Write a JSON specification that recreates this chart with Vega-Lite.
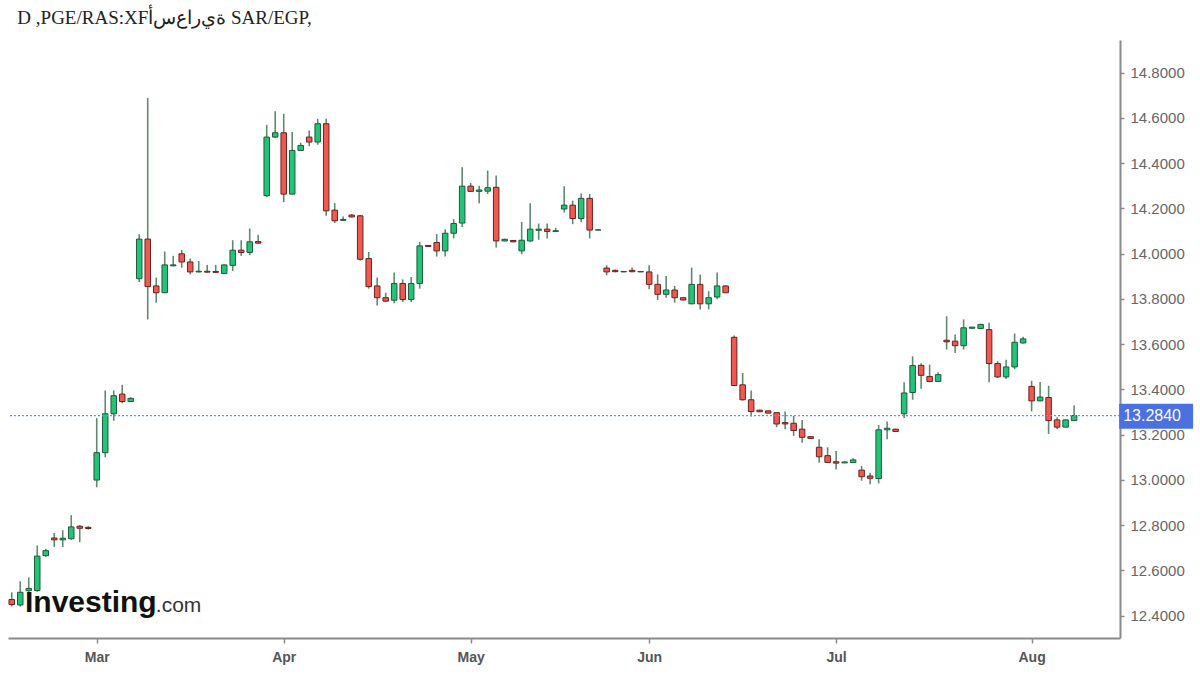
{
  "$schema": "https://vega.github.io/schema/vega-lite/v6.json",
  "width": 1112,
  "height": 598,
  "autosize": "none",
  "padding": {"left": 8, "top": 40, "right": 80, "bottom": 37},
  "background": "#ffffff",
  "title": {
    "text": "D ,PGE/RAS:XF\u202dأ\u200cس\u200cع\u200cا\u200cر\u200cي\u200cة\u202c SAR/EGP,",
    "anchor": "start",
    "dx": 10,
    "offset": -3,
    "baseline": "alphabetic",
    "font": "Liberation Serif",
    "fontSize": 19,
    "fontWeight": "normal",
    "color": "#222222"
  },
  "datasets": {
    "last": [{"price": 13.284}],
    "logo": [{"word": "Investing", "suffix": ".com"}]
  },
  "data": {
    "values": [
      {"i": 0, "o": 12.471, "h": 12.503, "l": 12.44, "c": 12.449},
      {"i": 1, "o": 12.447, "h": 12.552, "l": 12.44, "c": 12.503},
      {"i": 2, "o": 12.51, "h": 12.569, "l": 12.505, "c": 12.52},
      {"i": 3, "o": 12.511, "h": 12.71, "l": 12.505, "c": 12.663},
      {"i": 4, "o": 12.665, "h": 12.695, "l": 12.66, "c": 12.687},
      {"i": 5, "o": 12.743, "h": 12.765, "l": 12.703, "c": 12.735},
      {"i": 6, "o": 12.735, "h": 12.777, "l": 12.703, "c": 12.742},
      {"i": 7, "o": 12.74, "h": 12.844, "l": 12.735, "c": 12.792},
      {"i": 8, "o": 12.795, "h": 12.8, "l": 12.725, "c": 12.786},
      {"i": 9, "o": 12.79, "h": 12.795, "l": 12.78, "c": 12.785},
      {"i": 10, "o": 12.999, "h": 13.273, "l": 12.967, "c": 13.12},
      {"i": 11, "o": 13.12, "h": 13.395, "l": 13.1, "c": 13.292},
      {"i": 12, "o": 13.292, "h": 13.395, "l": 13.261, "c": 13.372},
      {"i": 13, "o": 13.379, "h": 13.42, "l": 13.339, "c": 13.346},
      {"i": 14, "o": 13.346, "h": 13.365, "l": 13.344, "c": 13.36},
      {"i": 15, "o": 13.889, "h": 14.086, "l": 13.874, "c": 14.064},
      {"i": 16, "o": 14.064, "h": 14.688, "l": 13.709, "c": 13.854},
      {"i": 17, "o": 13.857, "h": 13.894, "l": 13.783, "c": 13.827},
      {"i": 18, "o": 13.827, "h": 14.009, "l": 13.825, "c": 13.95},
      {"i": 19, "o": 13.946, "h": 13.99, "l": 13.944, "c": 13.95},
      {"i": 20, "o": 13.999, "h": 14.016, "l": 13.938, "c": 13.963},
      {"i": 21, "o": 13.963, "h": 13.978, "l": 13.908, "c": 13.919},
      {"i": 22, "o": 13.919, "h": 13.967, "l": 13.917, "c": 13.922},
      {"i": 23, "o": 13.922, "h": 13.95, "l": 13.916, "c": 13.918},
      {"i": 24, "o": 13.921, "h": 13.95, "l": 13.915, "c": 13.917},
      {"i": 25, "o": 13.912, "h": 13.952, "l": 13.911, "c": 13.95},
      {"i": 26, "o": 13.948, "h": 14.059, "l": 13.923, "c": 14.015},
      {"i": 27, "o": 14.015, "h": 14.059, "l": 13.99, "c": 14.005},
      {"i": 28, "o": 14.005, "h": 14.111, "l": 13.993, "c": 14.052},
      {"i": 29, "o": 14.053, "h": 14.083, "l": 14.045, "c": 14.046},
      {"i": 30, "o": 14.256, "h": 14.569, "l": 14.25, "c": 14.515},
      {"i": 31, "o": 14.515, "h": 14.629, "l": 14.51, "c": 14.534},
      {"i": 32, "o": 14.534, "h": 14.618, "l": 14.227, "c": 14.263},
      {"i": 33, "o": 14.263, "h": 14.537, "l": 14.26, "c": 14.456},
      {"i": 34, "o": 14.456, "h": 14.49, "l": 14.454, "c": 14.478},
      {"i": 35, "o": 14.515, "h": 14.544, "l": 14.475, "c": 14.493},
      {"i": 36, "o": 14.493, "h": 14.596, "l": 14.481, "c": 14.574},
      {"i": 37, "o": 14.574, "h": 14.596, "l": 14.167, "c": 14.189},
      {"i": 38, "o": 14.192, "h": 14.223, "l": 14.135, "c": 14.145},
      {"i": 39, "o": 14.147, "h": 14.164, "l": 14.145, "c": 14.151},
      {"i": 40, "o": 14.17, "h": 14.175, "l": 14.16, "c": 14.162},
      {"i": 41, "o": 14.167, "h": 14.17, "l": 13.97, "c": 13.975},
      {"i": 42, "o": 13.978, "h": 14.007, "l": 13.845, "c": 13.854},
      {"i": 43, "o": 13.857, "h": 13.894, "l": 13.771, "c": 13.805},
      {"i": 44, "o": 13.805, "h": 13.827, "l": 13.785, "c": 13.79},
      {"i": 45, "o": 13.794, "h": 13.916, "l": 13.78, "c": 13.868},
      {"i": 46, "o": 13.868, "h": 13.886, "l": 13.786, "c": 13.797},
      {"i": 47, "o": 13.797, "h": 13.897, "l": 13.786, "c": 13.868},
      {"i": 48, "o": 13.868, "h": 14.052, "l": 13.845, "c": 14.034},
      {"i": 49, "o": 14.036, "h": 14.037, "l": 14.03, "c": 14.031},
      {"i": 50, "o": 14.049, "h": 14.086, "l": 13.987, "c": 14.012},
      {"i": 51, "o": 14.012, "h": 14.108, "l": 13.987, "c": 14.09},
      {"i": 52, "o": 14.09, "h": 14.152, "l": 14.067, "c": 14.133},
      {"i": 53, "o": 14.135, "h": 14.382, "l": 14.118, "c": 14.298},
      {"i": 54, "o": 14.298, "h": 14.312, "l": 14.272, "c": 14.275},
      {"i": 55, "o": 14.275, "h": 14.3, "l": 14.223, "c": 14.281},
      {"i": 56, "o": 14.276, "h": 14.367, "l": 14.263, "c": 14.291},
      {"i": 57, "o": 14.293, "h": 14.345, "l": 14.027, "c": 14.056},
      {"i": 58, "o": 14.056, "h": 14.066, "l": 14.054, "c": 14.063},
      {"i": 59, "o": 14.058, "h": 14.06, "l": 14.05, "c": 14.052},
      {"i": 60, "o": 14.012, "h": 14.14, "l": 13.997, "c": 14.059},
      {"i": 61, "o": 14.056, "h": 14.223, "l": 14.052, "c": 14.108},
      {"i": 62, "o": 14.103, "h": 14.133, "l": 14.061, "c": 14.108},
      {"i": 63, "o": 14.108, "h": 14.133, "l": 14.067, "c": 14.098},
      {"i": 64, "o": 14.098, "h": 14.114, "l": 14.097, "c": 14.101},
      {"i": 65, "o": 14.197, "h": 14.298, "l": 14.182, "c": 14.214},
      {"i": 66, "o": 14.214, "h": 14.234, "l": 14.13, "c": 14.155},
      {"i": 67, "o": 14.155, "h": 14.266, "l": 14.138, "c": 14.244},
      {"i": 68, "o": 14.244, "h": 14.263, "l": 14.067, "c": 14.104},
      {"i": 69, "o": 14.104, "h": 14.106, "l": 14.103, "c": 14.105},
      {"i": 70, "o": 13.936, "h": 13.948, "l": 13.904, "c": 13.919},
      {"i": 71, "o": 13.926, "h": 13.93, "l": 13.918, "c": 13.92},
      {"i": 72, "o": 13.919, "h": 13.922, "l": 13.918, "c": 13.921},
      {"i": 73, "o": 13.926, "h": 13.938, "l": 13.918, "c": 13.92},
      {"i": 74, "o": 13.919, "h": 13.922, "l": 13.918, "c": 13.921},
      {"i": 75, "o": 13.919, "h": 13.948, "l": 13.842, "c": 13.864},
      {"i": 76, "o": 13.864, "h": 13.908, "l": 13.795, "c": 13.82},
      {"i": 77, "o": 13.82, "h": 13.901, "l": 13.805, "c": 13.839},
      {"i": 78, "o": 13.839, "h": 13.857, "l": 13.783, "c": 13.805},
      {"i": 79, "o": 13.805, "h": 13.807, "l": 13.793, "c": 13.795},
      {"i": 80, "o": 13.778, "h": 13.938, "l": 13.776, "c": 13.864},
      {"i": 81, "o": 13.864, "h": 13.908, "l": 13.753, "c": 13.778},
      {"i": 82, "o": 13.778, "h": 13.834, "l": 13.753, "c": 13.805},
      {"i": 83, "o": 13.808, "h": 13.916, "l": 13.798, "c": 13.857},
      {"i": 84, "o": 13.857, "h": 13.86, "l": 13.825, "c": 13.827},
      {"i": 85, "o": 13.63, "h": 13.638, "l": 13.415, "c": 13.417},
      {"i": 86, "o": 13.42, "h": 13.472, "l": 13.35, "c": 13.354},
      {"i": 87, "o": 13.354, "h": 13.395, "l": 13.28, "c": 13.302},
      {"i": 88, "o": 13.308, "h": 13.31, "l": 13.299, "c": 13.301},
      {"i": 89, "o": 13.305, "h": 13.307, "l": 13.293, "c": 13.295},
      {"i": 90, "o": 13.297, "h": 13.3, "l": 13.233, "c": 13.247},
      {"i": 91, "o": 13.253, "h": 13.302, "l": 13.224, "c": 13.247},
      {"i": 92, "o": 13.25, "h": 13.283, "l": 13.194, "c": 13.218},
      {"i": 93, "o": 13.224, "h": 13.265, "l": 13.164, "c": 13.188},
      {"i": 94, "o": 13.191, "h": 13.193, "l": 13.181, "c": 13.183},
      {"i": 95, "o": 13.144, "h": 13.179, "l": 13.076, "c": 13.102},
      {"i": 96, "o": 13.107, "h": 13.144, "l": 13.075, "c": 13.077},
      {"i": 97, "o": 13.08, "h": 13.128, "l": 13.046, "c": 13.074},
      {"i": 98, "o": 13.075, "h": 13.081, "l": 13.074, "c": 13.079},
      {"i": 99, "o": 13.076, "h": 13.095, "l": 13.075, "c": 13.088},
      {"i": 100, "o": 13.043, "h": 13.061, "l": 12.996, "c": 13.014},
      {"i": 101, "o": 13.017, "h": 13.031, "l": 12.981, "c": 13.007},
      {"i": 102, "o": 13.006, "h": 13.243, "l": 12.984, "c": 13.221},
      {"i": 103, "o": 13.221, "h": 13.258, "l": 13.179, "c": 13.228},
      {"i": 104, "o": 13.224, "h": 13.226, "l": 13.212, "c": 13.214},
      {"i": 105, "o": 13.292, "h": 13.431, "l": 13.273, "c": 13.384},
      {"i": 106, "o": 13.386, "h": 13.546, "l": 13.354, "c": 13.505},
      {"i": 107, "o": 13.506, "h": 13.515, "l": 13.403, "c": 13.462},
      {"i": 108, "o": 13.457, "h": 13.509, "l": 13.431, "c": 13.435},
      {"i": 109, "o": 13.435, "h": 13.475, "l": 13.433, "c": 13.465},
      {"i": 110, "o": 13.617, "h": 13.723, "l": 13.576, "c": 13.61},
      {"i": 111, "o": 13.613, "h": 13.642, "l": 13.561, "c": 13.593},
      {"i": 112, "o": 13.593, "h": 13.709, "l": 13.576, "c": 13.672},
      {"i": 113, "o": 13.67, "h": 13.677, "l": 13.668, "c": 13.675},
      {"i": 114, "o": 13.669, "h": 13.69, "l": 13.667, "c": 13.687},
      {"i": 115, "o": 13.664, "h": 13.694, "l": 13.431, "c": 13.514},
      {"i": 116, "o": 13.514, "h": 13.524, "l": 13.45, "c": 13.455},
      {"i": 117, "o": 13.455, "h": 13.531, "l": 13.446, "c": 13.499},
      {"i": 118, "o": 13.499, "h": 13.647, "l": 13.49, "c": 13.608},
      {"i": 119, "o": 13.605, "h": 13.632, "l": 13.603, "c": 13.623},
      {"i": 120, "o": 13.413, "h": 13.438, "l": 13.302, "c": 13.349},
      {"i": 121, "o": 13.349, "h": 13.432, "l": 13.347, "c": 13.366},
      {"i": 122, "o": 13.364, "h": 13.416, "l": 13.203, "c": 13.262},
      {"i": 123, "o": 13.265, "h": 13.277, "l": 13.224, "c": 13.233},
      {"i": 124, "o": 13.233, "h": 13.267, "l": 13.231, "c": 13.265},
      {"i": 125, "o": 13.262, "h": 13.329, "l": 13.26, "c": 13.284}
    ]
  },
  "layer": [
    {
      "mark": {"type": "rule", "color": "#5f8a72", "strokeWidth": 1.6},
      "encoding": {
        "x": {
          "field": "i",
          "type": "quantitative",
          "title": null,
          "scale": {"domain": [-0.44, 130.4], "nice": false, "zero": false, "padding": 0},
          "axis": {
            "orient": "bottom",
            "values": [10, 32, 54, 75, 97, 120],
            "labelExpr": "datum.value == 10 ? 'Mar' : datum.value == 32 ? 'Apr' : datum.value == 54 ? 'May' : datum.value == 75 ? 'Jun' : datum.value == 97 ? 'Jul' : 'Aug'",
            "grid": false,
            "domainColor": "#8a8a8a",
            "domainWidth": 2,
            "tickColor": "#8a8a8a",
            "tickSize": 5,
            "tickWidth": 1.5,
            "labelFontSize": 14,
            "labelFontWeight": "bold",
            "labelColor": "#555555",
            "labelPadding": 7
          }
        },
        "y": {
          "field": "l",
          "type": "quantitative",
          "title": null,
          "scale": {"domain": [12.301, 14.944], "nice": false, "zero": false},
          "axis": {
            "orient": "right",
            "values": [12.4, 12.6, 12.8, 13.0, 13.2, 13.4, 13.6, 13.8, 14.0, 14.2, 14.4, 14.6, 14.8],
            "format": ".4f",
            "grid": false,
            "domainColor": "#8a8a8a",
            "domainWidth": 2,
            "tickColor": "#8a8a8a",
            "tickSize": 4,
            "tickWidth": 1.5,
            "labelFontSize": 15,
            "labelColor": "#666666",
            "labelPadding": 6
          }
        },
        "y2": {"field": "h"}
      }
    },
    {
      "mark": {"type": "bar", "size": 5.5, "strokeWidth": 1},
      "encoding": {
        "x": {"field": "i", "type": "quantitative", "scale": {"domain": [-0.44, 130.4], "nice": false, "zero": false, "padding": 0}},
        "y": {"field": "o", "type": "quantitative", "scale": {"domain": [12.301, 14.944], "nice": false, "zero": false}},
        "y2": {"field": "c"},
        "fill": {
          "condition": {"test": "datum.c >= datum.o", "value": "#22c578"},
          "value": "#ef5a50"
        },
        "stroke": {
          "condition": {"test": "datum.c >= datum.o", "value": "#1d5a3a"},
          "value": "#6b2020"
        },
        "tooltip": [
          {"field": "o", "title": "Open"},
          {"field": "h", "title": "High"},
          {"field": "l", "title": "Low"},
          {"field": "c", "title": "Close"}
        ]
      }
    },
    {
      "data": {"name": "last"},
      "mark": {"type": "rule", "color": "#6a8ff7", "strokeWidth": 1.3, "strokeDash": [2, 2]},
      "encoding": {
        "y": {"field": "price", "type": "quantitative", "scale": {"domain": [12.301, 14.944], "nice": false, "zero": false}}
      }
    },
    {
      "data": {"name": "last"},
      "mark": {"type": "rect", "fill": "#4a70e2", "clip": false},
      "encoding": {
        "x": {"datum": 130.3, "type": "quantitative", "scale": {"domain": [-0.44, 130.4], "nice": false, "zero": false, "padding": 0}},
        "x2": {"datum": 139},
        "y": {"datum": 13.336, "type": "quantitative", "scale": {"domain": [12.301, 14.944], "nice": false, "zero": false}},
        "y2": {"datum": 13.226}
      }
    },
    {
      "data": {"name": "last"},
      "mark": {"type": "text", "align": "left", "baseline": "middle", "color": "#ffffff", "fontSize": 16, "dx": 4, "clip": false},
      "encoding": {
        "x": {"datum": 130.3, "type": "quantitative", "scale": {"domain": [-0.44, 130.4], "nice": false, "zero": false, "padding": 0}},
        "y": {"field": "price", "type": "quantitative", "scale": {"domain": [12.301, 14.944], "nice": false, "zero": false}},
        "text": {"field": "price", "format": ".4f"}
      }
    },
    {
      "data": {"name": "logo"},
      "mark": {"type": "text", "align": "left", "baseline": "alphabetic", "fontSize": 30, "fontWeight": "bold", "color": "#111111"},
      "encoding": {
        "x": {"datum": 1.56, "type": "quantitative", "scale": {"domain": [-0.44, 130.4], "nice": false, "zero": false, "padding": 0}},
        "y": {"datum": 12.418, "type": "quantitative", "scale": {"domain": [12.301, 14.944], "nice": false, "zero": false}},
        "text": {"field": "word"}
      }
    },
    {
      "data": {"name": "logo"},
      "mark": {"type": "text", "align": "left", "baseline": "alphabetic", "fontSize": 21, "color": "#333333"},
      "encoding": {
        "x": {"datum": 16.95, "type": "quantitative", "scale": {"domain": [-0.44, 130.4], "nice": false, "zero": false, "padding": 0}},
        "y": {"datum": 12.418, "type": "quantitative", "scale": {"domain": [12.301, 14.944], "nice": false, "zero": false}},
        "text": {"field": "suffix"}
      }
    }
  ],
  "config": {
    "font": "Liberation Sans",
    "view": {"stroke": null}
  }
}
